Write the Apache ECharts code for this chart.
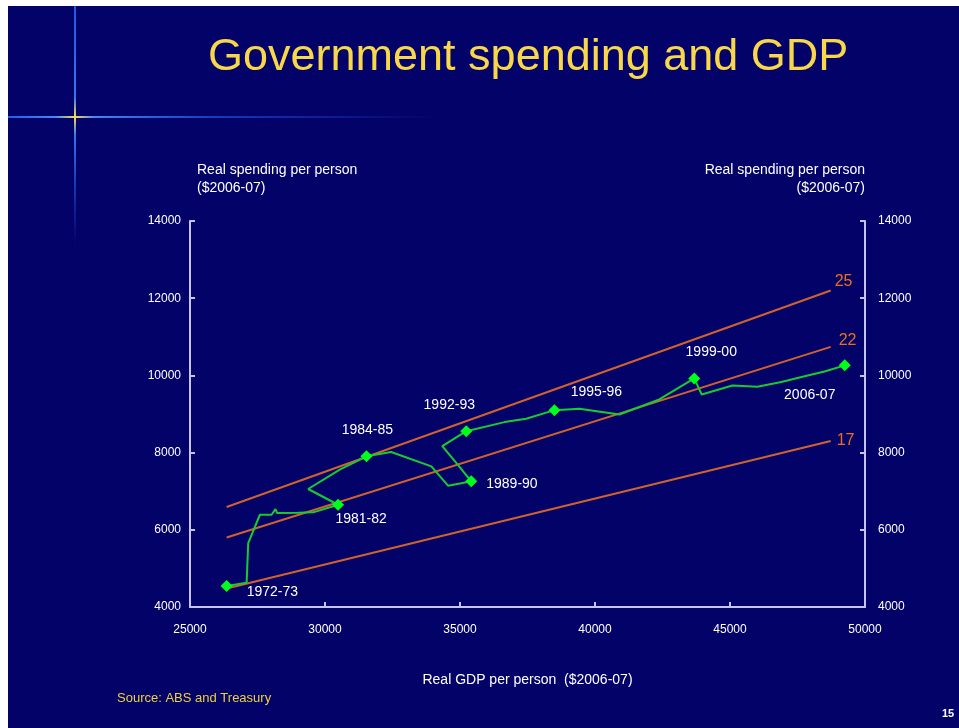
<!DOCTYPE html>
<html><head><meta charset="utf-8">
<script src="https://cdn.jsdelivr.net/npm/echarts@6/dist/echarts.min.js"></script>
<style>html,body{margin:0;padding:0;background:#fff;}#c{width:959px;height:728px;}</style>
</head><body><div id="c"></div>
<script>
// ---- data ----
const years = ['1972-73','1973-74','1974-75','1975-76','1976-77','1977-78','1978-79','1979-80','1980-81','1981-82',
  '1982-83','1983-84','1984-85','1985-86','1986-87','1987-88','1988-89','1989-90','1990-91','1991-92',
  '1992-93','1993-94','1994-95','1995-96','1996-97','1997-98','1998-99','1999-00','2000-01','2001-02',
  '2002-03','2003-04','2004-05','2005-06','2006-07'];
const gdpPerPerson = [26357,27097,27157,27589,28020,28168,28227,29000,29562,30485,
  29377,30547,31534,32450,33940,34555,35000,35417,34900,34343,
  35232,36649,37451,38498,39423,40902,42382,43676,43953,45089,
  46014,46900,47803,48500,49250];
const spendingPerPerson = [4545,4631,5655,6390,6390,6537,6433,6440,6452,6649,
  7057,7558,7904,8015,7644,7143,7200,7255,7700,8166,
  8554,8790,8875,9100,9135,8987,9377,9922,9506,9740,
  9706,9830,9982,10100,10260];
const labelledYears = ['1972-73','1981-82','1984-85','1989-90','1992-93','1995-96','1999-00','2006-07'];

const shareLabels = ['25','22','17'];
const shareStartGdp = [26357,26357,26357];
const shareStartSpending = [6590,5800,4480];
const shareEndGdp = [48730,48730,48730];
const shareEndSpending = [12200,10740,8300];

const xMin = 25000, xMax = 50000, xStep = 5000;
const yMin = 4000, yMax = 14000, yStep = 2000;

// ---- styles ----
const labelPlace = {
  '1972-73': ['right', [9, 6]],
  '1981-82': ['bottom', [23, -4]],
  '1984-85': ['top', [1, -8]],
  '1989-90': ['right', [4, 3]],
  '1992-93': ['top', [-17, -8]],
  '1995-96': ['top', [42, 0]],
  '1999-00': ['top', [17, -8]],
  '2006-07': ['bottom', [-35, 12]]
};
const shareLabelOffset = [[0, -9], [4, -6], [2, 0]];
const FONT = '"Liberation Sans", Arial, sans-serif';
const AXIS_COL = '#c4c4ec';
const LABEL_STYLE = {color: '#ffffff', fontSize: 14, fontFamily: FONT, textBorderWidth: 0};

const linePoints = years.map((y, i) => [gdpPerPerson[i], spendingPerPerson[i]]);
const markerPoints = years.map((y, i) => ({y, i})).filter(o => labelledYears.includes(o.y)).map(o => {
  const p = labelPlace[o.y];
  return {
    value: [gdpPerPerson[o.i], spendingPerPerson[o.i]],
    name: o.y,
    label: Object.assign({show: true, position: p[0], offset: p[1], formatter: o.y}, LABEL_STYLE)
  };
});

const shareSeries = shareLabels.map((s, k) => ({
  type: 'line',
  data: [[shareStartGdp[k], shareStartSpending[k]], [shareEndGdp[k], shareEndSpending[k]]],
  symbol: 'none',
  silent: true,
  lineStyle: {color: '#d2622c', width: 2},
  endLabel: {show: true, formatter: s, color: '#ec6e1c', fontSize: 16, fontFamily: FONT, offset: shareLabelOffset[k], distance: 4},
  z: 2
}));

const chart = echarts.init(document.getElementById('c'), null, {renderer: 'canvas'});
const yAxisCommon = {
  type: 'value', min: yMin, max: yMax, interval: yStep,
  axisLine: {show: true, lineStyle: {color: AXIS_COL, width: 2}},
  axisTick: {show: true, inside: true, length: 5, lineStyle: {color: AXIS_COL, width: 2}},
  splitLine: {show: false},
  axisLabel: {color: '#fff', fontSize: 12, fontFamily: FONT, formatter: v => String(v)},
  nameLocation: 'end',
  nameGap: 24,
  nameTextStyle: {color: '#fff', fontSize: 14, fontFamily: FONT, lineHeight: 18, verticalAlign: 'bottom'}
};
chart.setOption({
  backgroundColor: '#030268',
  animation: false,
  title: {
    text: 'Government spending and GDP',
    left: 203, top: 30,
    textStyle: {color: '#f8d84a', fontSize: 45, fontWeight: 'normal', fontFamily: FONT,
      textShadowColor: '#000018', textShadowOffsetX: 2, textShadowOffsetY: 2, textShadowBlur: 0}
  },
  grid: {left: 190, right: 94, top: 221, bottom: 121},
  xAxis: {
    type: 'value', min: xMin, max: xMax, interval: xStep,
    name: 'Real GDP per person  ($2006-07)',
    nameLocation: 'middle', nameGap: 66,
    nameTextStyle: {color: '#fff', fontSize: 14, fontFamily: FONT},
    axisLine: {show: true, onZero: false, lineStyle: {color: AXIS_COL, width: 2}},
    axisTick: {show: true, inside: true, length: 5, lineStyle: {color: AXIS_COL, width: 2}},
    splitLine: {show: false},
    axisLabel: {color: '#fff', fontSize: 12, fontFamily: FONT, margin: 17, formatter: v => String(v)}
  },
  yAxis: [
    Object.assign({}, yAxisCommon, {
      position: 'left',
      name: 'Real spending per person\n($2006-07)',
      nameTextStyle: Object.assign({}, yAxisCommon.nameTextStyle, {align: 'left', padding: [0, 0, 0, 7]}),
      axisLabel: Object.assign({}, yAxisCommon.axisLabel, {margin: 9})
    }),
    Object.assign({}, yAxisCommon, {
      position: 'right',
      name: 'Real spending per person\n($2006-07)',
      nameTextStyle: Object.assign({}, yAxisCommon.nameTextStyle, {align: 'right'}),
      axisLabel: Object.assign({}, yAxisCommon.axisLabel, {margin: 13})
    })
  ],
  series: shareSeries.concat([
    {
      type: 'line', data: linePoints, symbol: 'none', smooth: false,
      lineStyle: {color: '#18cc30', width: 2}, z: 3, silent: true
    },
    {
      type: 'scatter', data: markerPoints, symbol: 'diamond', symbolSize: 12,
      itemStyle: {color: '#00ff1a', opacity: 1}, z: 4, silent: true,
      label: LABEL_STYLE,
      emphasis: {disabled: true}
    }
  ]),
  graphic: [
    {type: 'rect', z: 0, silent: true, shape: {x: 74, y: 6, width: 2, height: 240},
      style: {fill: new echarts.graphic.LinearGradient(0, 0, 0, 1, [
        {offset: 0, color: 'rgba(40,110,255,0.8)'},
        {offset: 0.38, color: 'rgba(60,130,255,0.9)'},
        {offset: 0.462, color: 'rgba(255,220,80,1)'},
        {offset: 0.54, color: 'rgba(60,130,255,0.9)'},
        {offset: 1, color: 'rgba(40,90,255,0)'}
      ])}},
    {type: 'rect', z: 0, silent: true, shape: {x: 8, y: 116, width: 430, height: 2},
      style: {fill: new echarts.graphic.LinearGradient(0, 0, 1, 0, [
        {offset: 0, color: 'rgba(40,110,255,0.85)'},
        {offset: 0.11, color: 'rgba(80,150,255,0.9)'},
        {offset: 0.156, color: 'rgba(255,220,80,1)'},
        {offset: 0.2, color: 'rgba(80,150,255,0.9)'},
        {offset: 0.5, color: 'rgba(40,100,255,0.55)'},
        {offset: 1, color: 'rgba(40,90,255,0)'}
      ])}},
    {type: 'text', z: 5, silent: true, left: 117, top: 692,
      style: {text: 'Source: ABS and Treasury', fill: '#f0d040', fontSize: 13, fontFamily: FONT}},
    {type: 'text', z: 5, silent: true, left: 942, top: 708,
      style: {text: '15', fill: '#fff', fontSize: 11, fontWeight: 'bold', fontFamily: FONT}},
    {type: 'rect', z: 100, silent: true, shape: {x: 0, y: 0, width: 959, height: 6}, style: {fill: '#fff'}},
    {type: 'rect', z: 100, silent: true, shape: {x: 0, y: 0, width: 8, height: 728}, style: {fill: '#fff'}}
  ]
});
</script></body></html>
